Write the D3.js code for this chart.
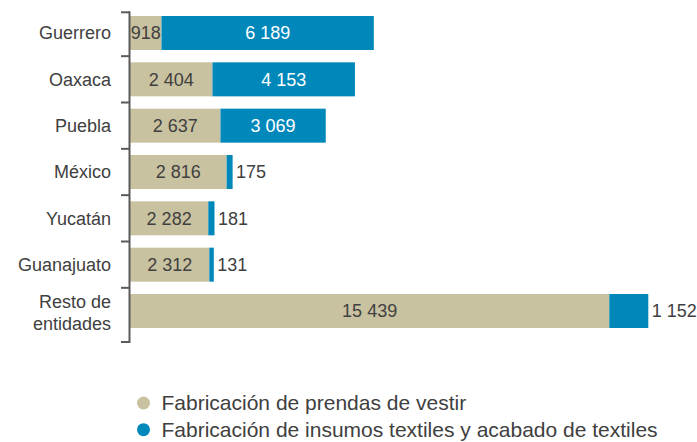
<!DOCTYPE html>
<html>
<head>
<meta charset="utf-8">
<script src="https://cdn.jsdelivr.net/npm/d3@7"></script>
<style>
  body { margin: 0; background: #fff; }
  svg { display: block; font-family: "Liberation Sans", Arial, sans-serif; }
</style>
</head>
<body>
<script>
var categories = ["Guerrero", "Oaxaca", "Puebla", "México", "Yucatán", "Guanajuato", "Resto de entidades"];
var prendas = [918, 2404, 2637, 2816, 2282, 2312, 15439];
var insumos = [6189, 4153, 3069, 175, 181, 131, 1152];
var seriesNames = ["Fabricación de prendas de vestir", "Fabricación de insumos textiles y acabado de textiles"];

var width = 697, height = 442;
var beige = "#c9c2a0", blue = "#0088bb", textColor = "#404040";

var svg = d3.select("body").append("svg")
    .attr("width", width).attr("height", height);

// the last bar is drawn shortened in the original, so the scale is broken past ~7 200
var x = d3.scaleLinear()
    .domain([0, 7200, 15439, 16591])
    .range([130, 377, 609.3, 648.3]);

var y = d3.scaleBand()
    .domain(categories)
    .range([16, 328])
    .paddingInner(0.266)
    .paddingOuter(0);

var fmt = function(v) { return d3.format(",")(v).replace(/,/g, " "); };

var rows = categories.map(function(c, i) {
  return {cat: c, a: prendas[i], b: insumos[i]};
});

var row = svg.append("g").selectAll(".row")
    .data(rows)
    .enter().append("g")
    .attr("class", "row");

row.append("rect")
    .attr("x", x(0))
    .attr("y", function(d) { return y(d.cat); })
    .attr("width", function(d) { return x(d.a) - x(0); })
    .attr("height", y.bandwidth())
    .attr("fill", beige);

row.append("rect")
    .attr("x", function(d) { return x(d.a); })
    .attr("y", function(d) { return y(d.cat); })
    .attr("width", function(d) { return x(d.a + d.b) - x(d.a); })
    .attr("height", y.bandwidth())
    .attr("fill", blue);

function inside(d) { return x(d.a + d.b) - x(d.a) > 60; }

row.append("text")
    .attr("x", function(d) { return (x(0) + x(d.a)) / 2; })
    .attr("y", function(d) { return y(d.cat) + y.bandwidth() / 2; })
    .attr("dy", "0.35em")
    .attr("text-anchor", "middle")
    .attr("font-size", 18)
    .attr("fill", textColor)
    .text(function(d) { return fmt(d.a); });

row.append("text")
    .attr("x", function(d) {
      return inside(d) ? (x(d.a) + x(d.a + d.b)) / 2 : x(d.a + d.b) + 3.5;
    })
    .attr("y", function(d) { return y(d.cat) + y.bandwidth() / 2; })
    .attr("dy", "0.35em")
    .attr("text-anchor", function(d) { return inside(d) ? "middle" : "start"; })
    .attr("font-size", 18)
    .attr("fill", function(d) { return inside(d) ? "#fff" : textColor; })
    .text(function(d) { return fmt(d.b); });

// category labels
row.each(function(d) {
  var t = d3.select(this).append("text")
      .attr("x", 111)
      .attr("text-anchor", "end")
      .attr("font-size", 18)
      .attr("fill", textColor);
  var cy = y(d.cat) + y.bandwidth() / 2;
  if (d.cat == "Resto de entidades") {
    t.append("tspan").attr("x", 111).attr("y", cy - 2.7).text("Resto de");
    t.append("tspan").attr("x", 111).attr("y", cy + 19).text("entidades");
  } else {
    t.attr("y", cy).attr("dy", "0.35em").text(d.cat);
  }
});

// axis with ticks between the bands
var axisX = 129.5;
var tickYs = categories.map(function(c, i) {
  return i == 0 ? y(c) - 3.7 : y(c) - y.step() * y.paddingInner() / 2;
});
tickYs.push(342);

var axis = svg.append("g").attr("stroke", "#5a5a5a").attr("stroke-width", 2);
axis.append("line")
    .attr("x1", axisX).attr("x2", axisX)
    .attr("y1", tickYs[0] - 1).attr("y2", tickYs[tickYs.length - 1] + 1);
axis.selectAll(".tick")
    .data(tickYs)
    .enter().append("line")
    .attr("x1", 121).attr("x2", axisX)
    .attr("y1", function(d) { return d; })
    .attr("y2", function(d) { return d; });

// legend
var li = svg.append("g").selectAll("g")
    .data(seriesNames)
    .enter().append("g")
    .attr("transform", function(d, i) { return "translate(0," + (403 + i * 26.7) + ")"; });
li.append("circle")
    .attr("cx", 143.5).attr("cy", 0).attr("r", 6.5)
    .attr("fill", function(d, i) { return i == 0 ? beige : blue; });
li.append("text")
    .attr("x", 161.5)
    .attr("y", 0)
    .attr("dy", "0.35em")
    .attr("font-size", 21)
    .attr("fill", textColor)
    .text(function(d) { return d; });
</script>
</body>
</html>
